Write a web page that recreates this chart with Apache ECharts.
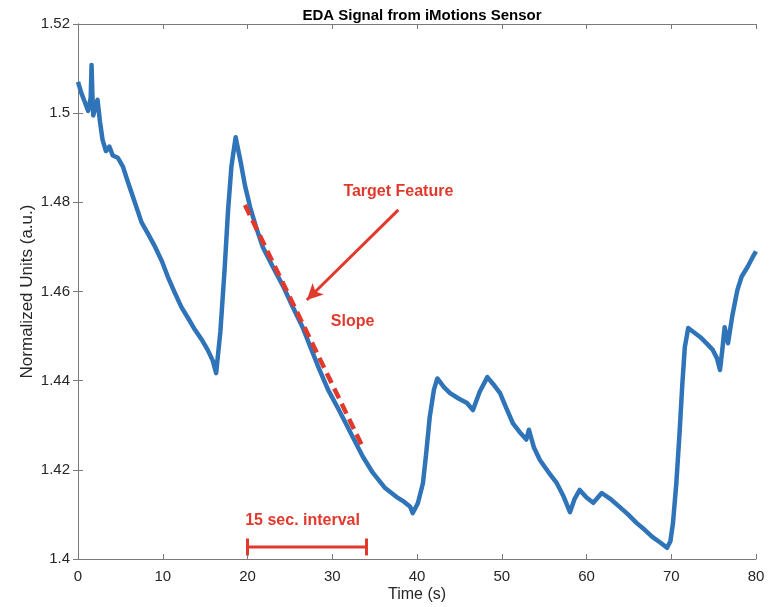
<!DOCTYPE html>
<html>
<head>
<meta charset="utf-8">
<title>EDA Signal from iMotions Sensor</title>
<script src="https://cdn.jsdelivr.net/npm/echarts@6/dist/echarts.min.js"></script>
<style>
  html, body { margin: 0; padding: 0; background: #fff; }
  #chart { width: 775px; height: 607px; }
</style>
</head>
<body>
<div id="chart"></div>
<script>
// values (time in s, normalized units)
const timeS = [
  0.0, 0.4, 0.8, 1.2, 1.5, 1.6, 1.7, 1.8, 2.0, 2.3, 2.6, 2.9, 3.3, 3.7, 4.1,
  4.7, 5.3, 5.9, 6.7, 7.5, 8.3, 9.1, 9.9, 10.6, 11.4, 12.2, 13.0, 13.8, 14.6,
  15.3, 15.9, 16.3, 16.8, 17.3, 17.7, 18.1, 18.6, 19.2, 19.7, 20.3, 21.0, 21.8,
  23.0, 24.2, 25.3, 26.5, 27.5, 28.5, 29.5, 30.6, 31.5, 32.4, 33.6, 34.8, 36.2,
  37.6, 38.5, 39.2, 39.5, 40.1, 40.7, 41.1, 41.5, 42.0, 42.4, 43.2, 43.9, 44.9,
  45.9, 46.6, 47.4, 48.3, 49.0, 49.8, 50.5, 51.3, 52.1, 52.9, 53.2, 53.8, 54.5,
  55.5, 56.5, 57.3, 58.05, 58.6, 59.2, 60.0, 60.8, 61.8, 62.8, 63.9, 64.9, 65.9,
  66.9, 67.8, 68.7, 69.5, 69.9, 70.2, 70.6, 71.0, 71.3, 71.6, 72.0, 72.7, 73.4,
  74.2, 74.9, 75.4, 75.75, 76.0, 76.3, 76.7, 77.2, 77.8, 78.3, 79.0, 79.6, 80.0
];
const edaValue = [
  1.5070, 1.5045, 1.5025, 1.5005, 1.5035, 1.5108, 1.5040, 1.4995, 1.4995, 1.5030,
  1.4980, 1.4940, 1.4915, 1.4925, 1.4905, 1.4900, 1.4880, 1.4845, 1.4800, 1.4755,
  1.4728, 1.4700, 1.4668, 1.4633, 1.4598, 1.4565, 1.4540, 1.4514, 1.4492, 1.4469,
  1.4445, 1.4417, 1.4510, 1.4650, 1.4780, 1.4880, 1.4946, 1.4890, 1.4838, 1.4790,
  1.4745, 1.4700, 1.4655, 1.4612, 1.4567, 1.4520, 1.4472, 1.4424, 1.4380, 1.4341,
  1.4308, 1.4274, 1.4230, 1.4193, 1.4160, 1.4139, 1.4128, 1.4117, 1.4103, 1.4125,
  1.4170, 1.4240, 1.4318, 1.4380, 1.4405, 1.4385, 1.4372, 1.4360, 1.4350, 1.4334,
  1.4375, 1.4408, 1.4392, 1.4372, 1.4340, 1.4305, 1.4285, 1.4268, 1.4290, 1.4250,
  1.4222, 1.4195, 1.4170, 1.4140, 1.4105, 1.4135, 1.4155, 1.4138, 1.4126, 1.4148,
  1.4135, 1.4117, 1.4100, 1.4081, 1.4065, 1.4049, 1.4037, 1.4025, 1.4040, 1.4080,
  1.4170, 1.4289, 1.4390, 1.4475, 1.4518, 1.4508, 1.4498, 1.4483, 1.4469, 1.4450,
  1.4424, 1.4465, 1.4520, 1.4484, 1.4545, 1.4603, 1.4633, 1.4655, 1.4677, 1.4690
];

// annotations
const slopeLine = [[19.7, 1.4794], [33.6, 1.4251]];
const arrowFrom = [37.8, 1.4783];
const arrowTo = [27.0, 1.4581];
const intervalBar = [20, 34, 1.4027];
const intervalCap = 0.0019;
const labels = [
  { name: "Target Feature", at: [37.8, 1.4823] },
  { name: "Slope", at: [32.4, 1.4532] },
  { name: "15 sec. interval", at: [26.5, 1.4087] }
];

const xTicks = { min: 0, max: 80, interval: 10 };
const yTicks = { min: 1.4, max: 1.52, interval: 0.02 };

const red = "#e2392d";
const blue = "#2f74b8";
const axisGray = "#7a7a7a";
const textColor = "#262626";
const font = "Liberation Sans";

const signal = timeS.map((t, i) => [t, edaValue[i]]);

const chart = echarts.init(document.getElementById("chart"));

const axisCommon = {
  type: "value",
  axisLine: { show: true, lineStyle: { color: axisGray, width: 1 } },
  axisTick: { show: true, inside: true, length: 5, lineStyle: { color: axisGray } },
  splitLine: { show: false }
};

const option = {
  animation: false,
  title: {
    text: "EDA Signal from iMotions Sensor",
    left: 417,
    textAlign: "center",
    top: 3,
    textStyle: { fontFamily: font, fontWeight: "bold", fontSize: 15, color: "#000" }
  },
  grid: { left: 78, right: 19, top: 24, bottom: 48, outerBoundsMode: "none" },
  xAxis: [
    Object.assign({}, axisCommon, xTicks, {
      position: "bottom",
      name: "Time (s)",
      nameLocation: "middle",
      nameGap: 28,
      nameMoveOverlap: false,
      nameTextStyle: { fontFamily: font, fontSize: 16, color: textColor },
      axisLabel: { fontFamily: font, fontSize: 15, color: textColor, margin: 10 }
    }),
    Object.assign({}, axisCommon, xTicks, {
      position: "top",
      axisLabel: { show: false }
    })
  ],
  yAxis: [
    Object.assign({}, axisCommon, yTicks, {
      position: "left",
      name: "Normalized Units (a.u.)",
      nameLocation: "middle",
      nameGap: 42,
      nameMoveOverlap: false,
      nameTextStyle: { fontFamily: font, fontSize: 17, color: textColor },
      axisLabel: { fontFamily: font, fontSize: 15, color: textColor, margin: 8 }
    }),
    Object.assign({}, axisCommon, yTicks, {
      position: "right",
      axisLabel: { show: false }
    })
  ],
  series: [
    {
      name: "EDA",
      type: "line",
      data: signal,
      showSymbol: false,
      symbol: "none",
      lineStyle: { color: blue, width: 4.5, join: "round" },
      z: 2
    },
    {
      name: "Slope",
      type: "line",
      data: slopeLine,
      symbol: "none",
      lineStyle: { color: red, width: 4.5, type: [11, 6] },
      z: 3
    },
    {
      name: "Interval",
      type: "line",
      data: [[intervalBar[0], intervalBar[2]], [intervalBar[1], intervalBar[2]]],
      symbol: "none",
      lineStyle: { color: red, width: 3 },
      markLine: {
        silent: true,
        symbol: ["none", "none"],
        label: { show: false },
        lineStyle: { color: red, width: 3, type: "solid", opacity: 1 },
        data: [
          [{ coord: [intervalBar[0], intervalBar[2] - intervalCap] }, { coord: [intervalBar[0], intervalBar[2] + intervalCap] }],
          [{ coord: [intervalBar[1], intervalBar[2] - intervalCap] }, { coord: [intervalBar[1], intervalBar[2] + intervalCap] }],
          [{ coord: arrowFrom, symbol: "none" }, { coord: arrowTo, symbol: "arrow", symbolSize: [12, 16] }]
        ]
      },
      z: 3
    },
    {
      name: "Notes",
      type: "scatter",
      symbolSize: 0,
      itemStyle: { opacity: 1 },
      data: labels.map(l => ({ name: l.name, value: l.at })),
      label: {
        show: true,
        position: "inside",
        formatter: p => p.name,
        fontFamily: font,
        fontWeight: "bold",
        fontSize: 16,
        color: red,
        opacity: 1
      },
      z: 4
    }
  ]
};

chart.setOption(option);
</script>
</body>
</html>
